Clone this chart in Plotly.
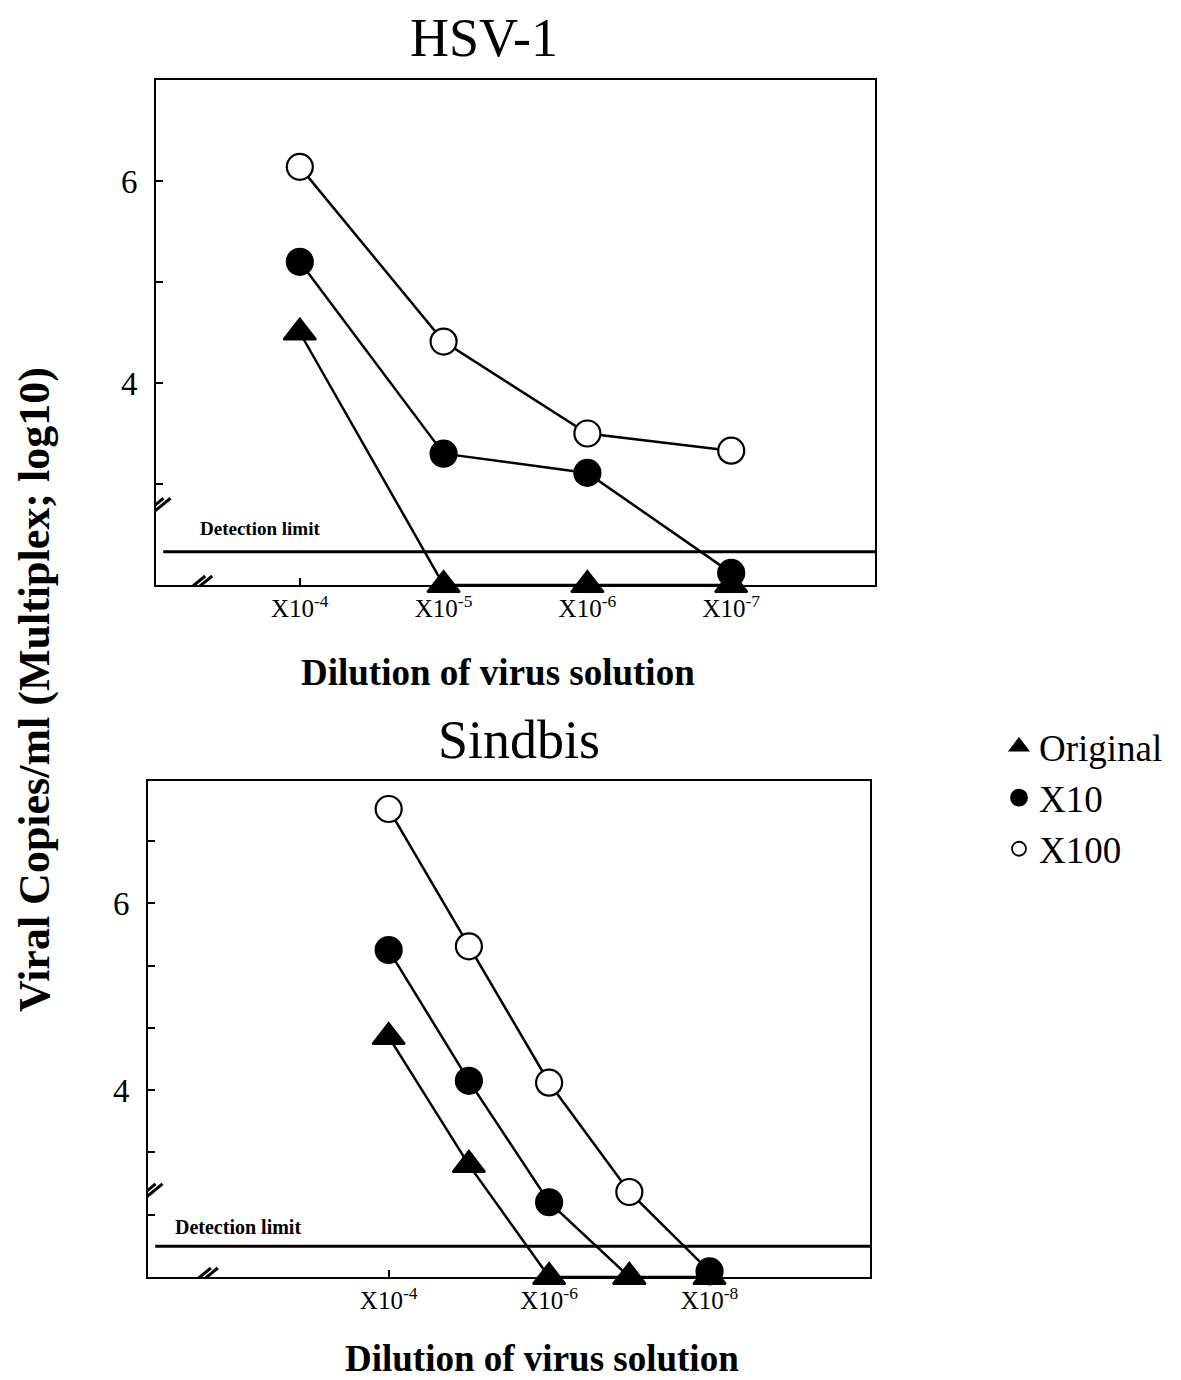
import plotly.graph_objects as go

# ---------------- data ----------------
# x = dilution exponent (10^-x)
hsv_x = [4, 5, 6, 7]
hsv_original = [4.50, 2.00, 2.00, 2.00]
hsv_x10 = [5.20, 3.30, 3.11, 2.12]
hsv_x100 = [6.14, 4.41, 3.50, 3.33]

sin_x_original = [4, 5, 6, 7, 8]
sin_original = [4.57, 3.20, 2.00, 2.00, 2.00]
sin_x_x10 = [4, 5, 6, 7]
sin_x10 = [5.50, 4.10, 2.80, 2.00]
sin_x_x100 = [4, 5, 6, 7, 8]
sin_x100 = [7.01, 5.54, 4.08, 2.91, 2.06]

detection_limit = 2.33

hsv_tickvals = [4, 5, 6, 7]
hsv_ticktext = ["X10<sup>-4</sup>", "X10<sup>-5</sup>", "X10<sup>-6</sup>", "X10<sup>-7</sup>"]
sin_tickvals = [4, 6, 8]
sin_ticktext = ["X10<sup>-4</sup>", "X10<sup>-6</sup>", "X10<sup>-8</sup>"]

y_tickvals = [4, 6]
y_ticktext = ["4", "6"]
hsv_yminor = [3, 5]
sin_yminor = [8 / 3, 10 / 3, 14 / 3, 16 / 3, 20 / 3]

# ---------------- layout helpers (page has an 8px body margin) ----------------
OFF = 8
W, H = 1181 - OFF, 1380 - OFF


def px(x):
    return (x - OFF) / W


def py(y):
    return 1 - (y - OFF) / H


SERIF = "Liberation Serif"
BLACK = "black"
MS = 26
TS = 28
LW = 2.5

fig = go.Figure()


def add_series(x, y, xa, ya, name, symbol, color, size):
    fig.add_trace(go.Scatter(
        x=x, y=y, xaxis=xa, yaxis=ya, name=name, legendgroup=name,
        showlegend=False, mode="lines+markers", cliponaxis=False,
        line=dict(color=BLACK, width=LW),
        marker=dict(symbol=symbol, color=color, size=size, opacity=1,
                    line=dict(color=BLACK, width=2.2)),
    ))


# HSV-1 (top)
add_series(hsv_x, hsv_original, "x", "y", "Original", "triangle-up", BLACK, TS)
add_series(hsv_x, hsv_x10, "x", "y", "X10", "circle", BLACK, MS)
add_series(hsv_x, hsv_x100, "x", "y", "X100", "circle", "white", MS)

# Sindbis (bottom)
add_series(sin_x_original, sin_original, "x2", "y2", "Original", "triangle-up", BLACK, TS)
add_series(sin_x_x10, sin_x10, "x2", "y2", "X10",
           ["circle", "circle", "circle", "triangle-up"], BLACK, [MS, MS, MS, TS])
add_series(sin_x_x100, sin_x100, "x2", "y2", "X100", "circle",
           ["white", "white", "white", "white", BLACK], MS)

# legend entries (markers only)
for name, sym, col, sz in (("Original", "triangle-up", BLACK, 22),
                           ("X10", "circle", BLACK, 18),
                           ("X100", "circle", "white", 14)):
    fig.add_trace(go.Scatter(
        x=[None], y=[None], xaxis="x", yaxis="y", name=name, legendgroup=name,
        mode="markers", showlegend=True,
        marker=dict(symbol=sym, color=col, size=sz, opacity=1,
                    line=dict(color=BLACK, width=1.8)),
    ))

axis_common = dict(showline=True, mirror=True, linecolor=BLACK, linewidth=2,
                   showgrid=False, zeroline=False, ticks="inside", ticklen=7,
                   tickwidth=1.5, tickcolor=BLACK)


def minor(vals):
    return dict(tickmode="array", tickvals=vals, ticks="inside", ticklen=7,
                tickwidth=1.5, tickcolor=BLACK, showgrid=False)


fig.update_layout(
    width=W, height=H,
    margin=dict(l=0, r=0, t=0, b=0),
    paper_bgcolor="white", plot_bgcolor="white",
    font=dict(family=SERIF, color=BLACK),
    xaxis=dict(domain=[px(156), px(875)], anchor="y", range=[3, 8],
               tickvals=hsv_tickvals, ticktext=hsv_ticktext,
               tickfont=dict(size=25, family=SERIF), **axis_common),
    yaxis=dict(domain=[py(585), py(80)], anchor="x", range=[2, 7],
               tickvals=y_tickvals, ticktext=y_ticktext, minor=minor(hsv_yminor),
               tickfont=dict(size=33, family=SERIF), ticklabelstandoff=10,
               **axis_common),
    xaxis2=dict(domain=[px(148), px(870)], anchor="y2", range=[1, 10],
                tickvals=sin_tickvals, ticktext=sin_ticktext,
                tickfont=dict(size=25, family=SERIF), **axis_common),
    yaxis2=dict(domain=[py(1277), py(781)], anchor="x2", range=[2.0, 7.31],
                tickvals=y_tickvals, ticktext=y_ticktext, minor=minor(sin_yminor),
                tickfont=dict(size=33, family=SERIF), ticklabelstandoff=10,
                **axis_common),
    legend=dict(x=px(999), y=py(716), xanchor="left", yanchor="top",
                font=dict(size=37, family=SERIF), bgcolor="rgba(0,0,0,0)",
                itemsizing="trace", tracegroupgap=0),
    showlegend=True,
)

# detection limit lines
for xd, yr in (("x domain", "y"), ("x2 domain", "y2")):
    fig.add_shape(type="line", xref=xd, yref=yr, x0=0.01, x1=1,
                  y0=detection_limit, y1=detection_limit,
                  line=dict(color=BLACK, width=3))


# axis break marks "//"
def add_break(xref, yref, xa, ya):
    for dx in (-3.5, 3.5):
        fig.add_shape(type="line", xref=xref, yref=yref,
                      xsizemode="pixel", ysizemode="pixel",
                      xanchor=xa, yanchor=ya,
                      x0=-11 + dx, y0=-9, x1=11 + dx, y1=9,
                      line=dict(color=BLACK, width=3))


add_break("x", "y", 3, 2.77)
add_break("x", "y", 3.29, 2.0)
add_break("x2", "y2", 1, 2.90)
add_break("x2", "y2", 1.69, 2.0)

annotations = [
    dict(text="HSV-1", x=px(483.5), y=py(38)),
    dict(text="Sindbis", x=px(519), y=py(740)),
    dict(text="<b>Dilution of virus solution</b>", x=px(498), y=py(672)),
    dict(text="<b>Dilution of virus solution</b>", x=px(542), y=py(1358)),
    dict(text="<b>Viral Copies/ml (Multiplex; log10)</b>", x=px(34), y=py(690),
         textangle=-90),
]
sizes = [54, 54, 37, 37, 44]
for a, s in zip(annotations, sizes):
    a.update(xref="paper", yref="paper", xanchor="center", yanchor="middle",
             showarrow=False, font=dict(size=s, family=SERIF))

annotations += [
    dict(text="<b>Detection limit</b>", x=3.29, y=2.56, xref="x", yref="y",
         xanchor="left", yanchor="middle", showarrow=False,
         font=dict(size=19, family=SERIF)),
    dict(text="<b>Detection limit</b>", x=1.31, y=2.53, xref="x2", yref="y2",
         xanchor="left", yanchor="middle", showarrow=False,
         font=dict(size=20, family=SERIF)),
]
fig.update_layout(annotations=annotations)

fig.write_html("out.html")
